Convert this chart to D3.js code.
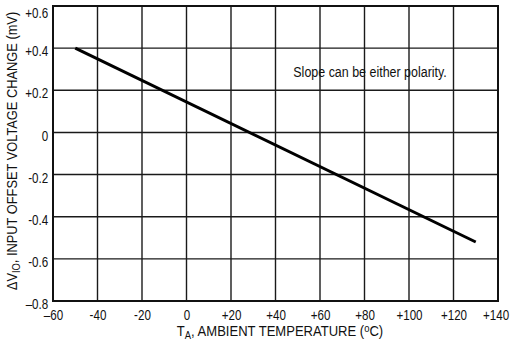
<!DOCTYPE html>
<html><head><meta charset="utf-8">
<script src="https://cdn.jsdelivr.net/npm/d3@7"></script>
<style>
body{margin:0;background:#fff;}
text{font-family:"Liberation Sans",Arial,sans-serif;fill:#111;}
</style></head><body>
<svg id="c" width="511" height="347"></svg>
<script>
const xTicks = [-60,-40,-20,0,20,40,60,80,100,120,140];
const xTickLabels = ["\u201360","-40","-20","0","+20","+40","+60","+80","+100","+120","+140"];
const yTicks = [-0.8,-0.6,-0.4,-0.2,0,0.2,0.4,0.6];
const yTickLabels = ["\u20130.8","-0.6","-0.4","-0.2","0","+0.2","+0.4","+0.6"];
const temps = [-50, 130];
const offsetChange = [0.40, -0.52];
const note = "Slope can be either polarity.";

const SX = 0.8; // condensed look
const svg = d3.select("#c");
const L=53, R=498, T=6, B=301;
const x = d3.scaleLinear().domain([-60,140]).range([L,R]);
const y = d3.scaleLinear().domain([-0.8,0.6]).range([B,T]);

// grid
svg.append("g").selectAll("line").data(xTicks).join("line")
  .attr("x1",d=>x(d)).attr("x2",d=>x(d)).attr("y1",T).attr("y2",B)
  .attr("stroke","#1a1a1a").attr("stroke-width",1.4);
svg.append("g").selectAll("line").data(yTicks).join("line")
  .attr("y1",d=>y(d)).attr("y2",d=>y(d)).attr("x1",L).attr("x2",R)
  .attr("stroke","#1a1a1a").attr("stroke-width",1.4);
svg.append("rect").attr("x",L).attr("y",T).attr("width",R-L).attr("height",B-T)
  .attr("fill","none").attr("stroke","#111").attr("stroke-width",2);

// axes labels via d3 axes
const xAxis = d3.axisBottom(x).tickValues(xTicks).tickSize(0).tickPadding(9)
  .tickFormat((d,i)=>xTickLabels[i]);
const gx = svg.append("g").attr("transform",`translate(0,${B})`).call(xAxis);
gx.select(".domain").remove();
gx.selectAll("text").attr("font-size",14.5).attr("fill","#111")
  .attr("transform",`scale(${SX},1)`)
  .style("font-family",'"Liberation Sans",Arial,sans-serif');
gx.selectAll(".tick").filter(d=>d===140).select("text").attr("x",-3);

const yAxis = d3.axisLeft(y).tickValues(yTicks).tickSize(0).tickPadding(6)
  .tickFormat((d,i)=>yTickLabels[i]);
const gy = svg.append("g").attr("transform",`translate(${L},0)`).call(yAxis);
gy.select(".domain").remove();
gy.selectAll("text").attr("font-size",14.5).attr("fill","#111")
  .attr("transform",`scale(${SX},1)`)
  .attr("y",3)
  .style("font-family",'"Liberation Sans",Arial,sans-serif');
gy.selectAll(".tick").filter(d=>d===0.6).select("text").attr("y",7);

// data line
const line = d3.line().x(d=>x(d[0])).y(d=>y(d[1]));
svg.append("path").datum(temps.map((t,i)=>[t,offsetChange[i]]))
  .attr("d",line).attr("fill","none").attr("stroke","#000").attr("stroke-width",3);

// note
svg.append("text").attr("transform",`translate(${x(82.5)},${y(0.262)}) scale(0.89,1)`)
  .attr("text-anchor","middle").attr("font-size",14).text(note);

// x title
const xt = svg.append("text").attr("transform",`translate(280,336) scale(0.9,1)`)
  .attr("text-anchor","middle").attr("font-size",14.5);
xt.append("tspan").text("T");
xt.append("tspan").attr("font-size",10.5).attr("dy",3).text("A");
xt.append("tspan").attr("dy",-3).text(", AMBIENT TEMPERATURE (");
xt.append("tspan").attr("font-size",10.5).attr("dy",-4).text("o");
xt.append("tspan").attr("dy",4).text("C)");

// y title
const yt = svg.append("text").attr("transform",`translate(17,151) rotate(-90) scale(0.885,1)`)
  .attr("text-anchor","middle").attr("font-size",14.5);
yt.append("tspan").text("\u0394V");
yt.append("tspan").attr("font-size",10.5).attr("dy",3).text("IO");
yt.append("tspan").attr("dy",-3).text(", INPUT OFFSET VOLTAGE CHANGE (mV)");
</script></body></html>
